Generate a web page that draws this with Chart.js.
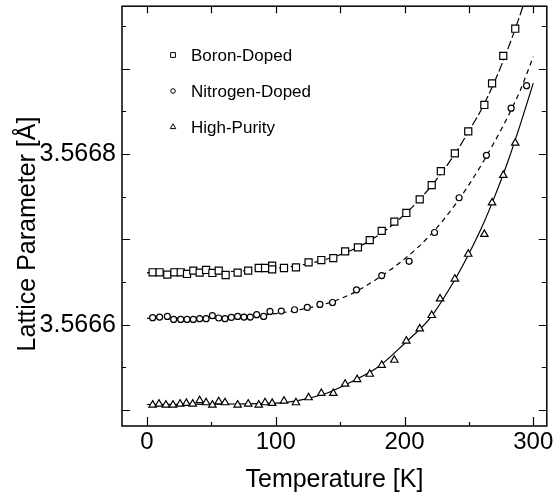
<!DOCTYPE html>
<html>
<head>
<meta charset="utf-8">
<script src="https://cdn.jsdelivr.net/npm/chart.js@4.4.1/dist/chart.umd.min.js"></script>
<style>
  html, body { margin: 0; padding: 0; background: #fff; }
  #wrap { width: 553px; height: 495px; }
</style>
</head>
<body>
<div id="wrap"><canvas id="chart" width="553" height="495"></canvas></div>
<script>
// measured points, temperature [K] and lattice parameter [A]
const boronT = [4.4, 9.8, 15.8, 21.3, 26.2, 31.1, 36.0, 40.9, 45.9, 50.8, 55.7, 61.1, 70.4, 78.6, 86.8, 91.7, 97.2, 97.2, 106.4, 115.7, 125.5, 135.4, 144.7, 153.9, 163.8, 173.0, 182.3, 192.1, 201.4, 211.8, 221.1, 228.2, 239.1, 249.5, 262.0, 268.0, 276.7, 286.0];
const boronA = [3.5666614, 3.5666614, 3.5666586, 3.5666614, 3.5666614, 3.5666594, 3.5666633, 3.566661, 3.5666641, 3.5666606, 3.5666633, 3.5666582, 3.566661, 3.5666633, 3.5666664, 3.5666664, 3.5666691, 3.5666648, 3.5666664, 3.5666672, 3.566673, 3.5666757, 3.566678, 3.5666858, 3.5666905, 3.566699, 3.5667099, 3.5667208, 3.5667309, 3.5667468, 3.5667635, 3.5667798, 3.5668007, 3.5668264, 3.5668574, 3.5668827, 3.5669149, 3.5669467];

const nitrogenT = [4.4, 9.8, 15.8, 20.7, 26.2, 31.1, 36.0, 40.9, 45.9, 50.8, 55.7, 60.6, 65.5, 70.4, 75.3, 80.2, 85.2, 90.6, 95.5, 104.3, 114.6, 124.5, 134.3, 144.1, 162.7, 182.3, 203.6, 223.3, 242.4, 263.6, 282.8, 294.8];
const nitrogenA = [3.5666082, 3.5666089, 3.5666097, 3.5666062, 3.5666062, 3.5666062, 3.5666062, 3.566607, 3.566607, 3.5666105, 3.5666078, 3.566607, 3.5666085, 3.5666097, 3.5666089, 3.5666089, 3.5666117, 3.5666097, 3.5666155, 3.5666159, 3.5666175, 3.5666202, 3.5666237, 3.566626, 3.5666408, 3.5666575, 3.5666742, 3.566708, 3.5667487, 3.5667984, 3.5668536, 3.56688];

const pureT = [4.4, 9.3, 14.7, 20.2, 25.7, 30.6, 35.5, 40.9, 45.9, 50.8, 55.7, 60.6, 70.4, 78.6, 86.8, 91.7, 97.2, 106.4, 115.7, 125.5, 135.4, 144.7, 153.9, 163.2, 173.0, 182.3, 192.1, 201.4, 211.8, 221.1, 227.6, 239.1, 249.5, 262.0, 268.0, 276.7, 286.0];
const pureA = [3.566506, 3.5665072, 3.566506, 3.566506, 3.5665072, 3.566508, 3.5665072, 3.5665111, 3.5665087, 3.566506, 3.5665099, 3.5665087, 3.566506, 3.5665072, 3.566506, 3.5665087, 3.566508, 3.5665107, 3.5665087, 3.5665146, 3.5665196, 3.5665196, 3.5665305, 3.5665359, 3.5665421, 3.5665526, 3.5665585, 3.566581, 3.5665953, 3.5666109, 3.5666303, 3.5666536, 3.5666827, 3.566706, 3.5667429, 3.5667751, 3.5668128];

// fitted curves
const boronFitT = [0, 60, 100, 120, 140, 160, 180, 200, 220, 240, 250, 260, 270, 280, 290, 300];
const boronFitA = [3.566661, 3.566662, 3.566666, 3.56667, 3.566677, 3.566688, 3.566705, 3.566729, 3.566761, 3.566802, 3.566827, 3.566853, 3.566885, 3.566922, 3.566964, 3.56701];
const nitrogenFitT = [0, 60, 100, 120, 140, 160, 180, 200, 220, 240, 260, 280, 290, 300];
const nitrogenFitA = [3.5666075, 3.566608, 3.566613, 3.566618, 3.566625, 3.566637, 3.566655, 3.566677, 3.566705, 3.566742, 3.566788, 3.566843, 3.566875, 3.566914];
const pureFitT = [0, 60, 100, 120, 140, 160, 180, 200, 220, 240, 250, 260, 270, 280, 290, 300];
const pureFitA = [3.5665065, 3.566507, 3.566508, 3.566512, 3.56652, 3.566534, 3.566551, 3.566578, 3.566608, 3.566655, 3.566683, 3.566714, 3.56675, 3.56679, 3.566835, 3.566883];

const seriesNames = ['Boron-Doped', 'Nitrogen-Doped', 'High-Purity'];

const xTicks = [0, 100, 200, 300];
const xMinorTicks = [50, 150, 250];
const yTicks = [3.5665, 3.5666, 3.5667, 3.5668, 3.5669];
const yMinorTicks = [3.56655, 3.56665, 3.56675, 3.56685, 3.56695];
const yLabelled = [3.5666, 3.5668];

const FONT = "'Liberation Sans', Arial, sans-serif";

function pts(xs, ys) {
  return xs.map((x, i) => ({ x: x, y: ys[i] }));
}

function marker(ctx, style, x, y, r) {
  ctx.beginPath();
  if (style === 'rect') {
    const s = r * Math.SQRT1_2;
    ctx.rect(x - s, y - s, 2 * s, 2 * s);
  } else if (style === 'circle') {
    ctx.arc(x, y, r, 0, Math.PI * 2);
  } else {
    for (let k = 0; k < 3; k++) {
      const a = k * 2 * Math.PI / 3;
      const px = x + Math.sin(a) * r, py = y - Math.cos(a) * r;
      k ? ctx.lineTo(px, py) : ctx.moveTo(px, py);
    }
    ctx.closePath();
  }
  ctx.fill();
  ctx.stroke();
}

const framePlugin = {
  id: 'frame',
  afterDraw(chart) {
    const { ctx, chartArea: a, scales: { x, y } } = chart;
    ctx.save();
    ctx.strokeStyle = '#000';
    ctx.lineWidth = 1.5;
    ctx.strokeRect(a.left, a.top, a.right - a.left, a.bottom - a.top);

    ctx.lineWidth = 1.2;
    ctx.beginPath();
    xTicks.concat(xMinorTicks).forEach(v => {
      const px = Math.round(x.getPixelForValue(v)) + 0.5;
      const len = xTicks.includes(v) ? 9 : 4;
      ctx.moveTo(px, a.bottom); ctx.lineTo(px, a.bottom - len);
      ctx.moveTo(px, a.top); ctx.lineTo(px, a.top + 7);
    });
    yTicks.concat(yMinorTicks).forEach(v => {
      const py = Math.round(y.getPixelForValue(v)) + 0.5;
      const major = yTicks.includes(v);
      ctx.moveTo(a.left, py); ctx.lineTo(a.left + (major ? 8 : 4), py);
      ctx.moveTo(a.right, py); ctx.lineTo(a.right - (major ? 8 : 5), py);
    });
    ctx.stroke();

    // legend inside the plot
    ctx.fillStyle = '#000';
    ctx.font = '17px ' + FONT;
    ctx.textBaseline = 'middle';
    ctx.textAlign = 'left';
    const styles = ['rect', 'circle', 'triangle'];
    const sizes = [3.4, 2.3, 3.2];
    seriesNames.forEach((name, i) => {
      const ly = 55 + i * 36;
      ctx.save();
      ctx.fillStyle = '#fff';
      ctx.lineWidth = 1;
      marker(ctx, styles[i], 173, ly, sizes[i]);
      ctx.restore();
      ctx.fillText(name, 191, ly + 1);
    });

    // axis titles
    ctx.font = '25px ' + FONT;
    ctx.textAlign = 'center';
    ctx.textBaseline = 'alphabetic';
    ctx.fillText('Temperature [K]', (a.left + a.right) / 2, 487);
    ctx.translate(35, 234);
    ctx.rotate(-Math.PI / 2);
    ctx.fillText('Lattice Parameter [Å]', 0, 0);
    ctx.restore();
  }
};

const pointBase = {
  showLine: false,
  pointBackgroundColor: '#fff',
  pointBorderColor: '#000',
  pointBorderWidth: 1.2
};
const lineBase = {
  showLine: true,
  pointRadius: 0,
  borderColor: '#000',
  borderWidth: 1.2,
  cubicInterpolationMode: 'monotone',
  fill: false
};

new Chart(document.getElementById('chart').getContext('2d'), {
  type: 'scatter',
  data: {
    datasets: [
      Object.assign({ label: seriesNames[0], data: pts(boronT, boronA), pointStyle: 'rect', pointRadius: 5 }, pointBase),
      Object.assign({ label: seriesNames[1], data: pts(nitrogenT, nitrogenA), pointStyle: 'circle', pointRadius: 3 }, pointBase),
      Object.assign({ label: seriesNames[2], data: pts(pureT, pureA), pointStyle: 'triangle', pointRadius: 4.3 }, pointBase),
      Object.assign({ label: 'boron fit', data: pts(boronFitT, boronFitA), borderDash: [9, 3] }, lineBase),
      Object.assign({ label: 'nitrogen fit', data: pts(nitrogenFitT, nitrogenFitA), borderDash: [5, 4] }, lineBase),
      Object.assign({ label: 'pure fit', data: pts(pureFitT, pureFitA) }, lineBase)
    ]
  },
  options: {
    responsive: false,
    animation: false,
    layout: { padding: { top: 5, right: 6, left: 0, bottom: 0 } },
    plugins: { legend: { display: false }, tooltip: { enabled: false } },
    scales: {
      x: {
        type: 'linear',
        min: -19.4,
        max: 310.5,
        grid: { display: false, drawTicks: false },
        border: { display: false },
        afterBuildTicks: s => { s.ticks = xTicks.map(v => ({ value: v })); },
        afterFit: s => { s.height = 69; s.paddingLeft = 0; s.paddingRight = 0; },
        ticks: { color: '#000', padding: 2, maxRotation: 0, font: { family: FONT, size: 24 } }
      },
      y: {
        type: 'linear',
        min: 3.5664813,
        max: 3.5669731,
        grid: { display: false, drawTicks: false },
        border: { display: false },
        afterBuildTicks: s => { s.ticks = yTicks.map(v => ({ value: v })); },
        afterFit: s => { s.width = 122; s.paddingTop = 0; s.paddingBottom = 0; },
        ticks: {
          color: '#000',
          padding: 6,
          font: { family: FONT, size: 25 },
          callback: v => yLabelled.some(l => Math.abs(l - v) < 1e-9) ? v.toFixed(4) : ''
        }
      }
    }
  },
  plugins: [framePlugin]
});
</script>
</body>
</html>
